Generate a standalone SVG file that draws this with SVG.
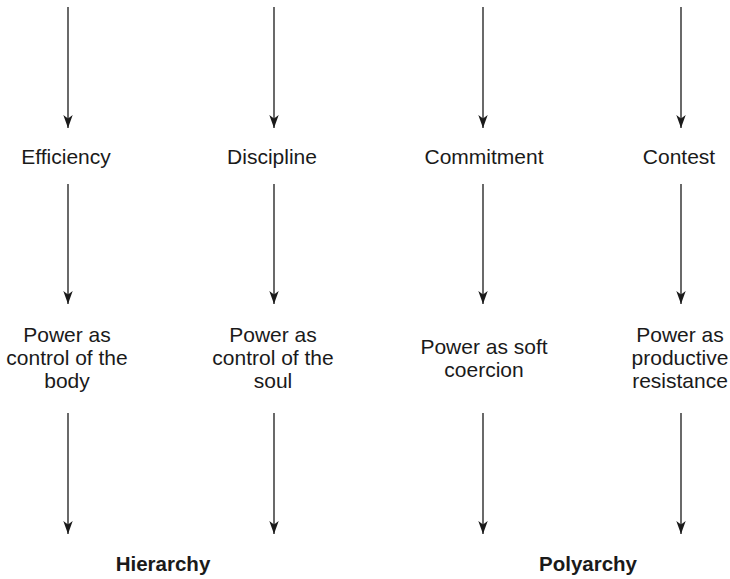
<svg xmlns="http://www.w3.org/2000/svg" width="730" height="579" viewBox="0 0 730 579">
  <defs>
    <marker id="arrow" viewBox="0 0 13 10" refX="13" refY="5" markerWidth="13" markerHeight="10" markerUnits="userSpaceOnUse" orient="auto">
      <path d="M0,0.3 L13,5 L0,9.7 L3.5,5 Z" fill="#1a1a1a"/>
    </marker>
  </defs>
  <style>
    .lbl { font-family: "Liberation Sans", Arial, sans-serif; font-size: 21px; fill: #1a1a1a; text-anchor: middle; }
    .head { font-weight: bold; font-size: 20.5px; }
    .conn line { stroke: #1a1a1a; stroke-width: 1.3; marker-end: url(#arrow); }
  </style>
  <rect width="730" height="579" fill="#ffffff"/>

  <g id="connectors" class="conn">
    <line x1="68" y1="7" x2="68" y2="128"/>
    <line x1="274" y1="7" x2="274" y2="128"/>
    <line x1="483" y1="7" x2="483" y2="128"/>
    <line x1="681" y1="7" x2="681" y2="128"/>

    <line x1="68" y1="184" x2="68" y2="304"/>
    <line x1="274" y1="184" x2="274" y2="304"/>
    <line x1="483" y1="184" x2="483" y2="304"/>
    <line x1="681" y1="184" x2="681" y2="304"/>

    <line x1="68" y1="413" x2="68" y2="534"/>
    <line x1="274" y1="413" x2="274" y2="534"/>
    <line x1="483" y1="413" x2="483" y2="534"/>
    <line x1="681" y1="413" x2="681" y2="534"/>
  </g>

  <g id="efficiency"><text class="lbl" x="66" y="164">Efficiency</text></g>
  <g id="discipline"><text class="lbl" x="272" y="164">Discipline</text></g>
  <g id="commitment"><text class="lbl" x="484" y="164">Commitment</text></g>
  <g id="contest"><text class="lbl" x="679" y="164">Contest</text></g>

  <g id="power-body">
    <text class="lbl" x="67" y="342">Power as</text>
    <text class="lbl" x="67" y="365">control of the</text>
    <text class="lbl" x="67" y="388">body</text>
  </g>
  <g id="power-soul">
    <text class="lbl" x="273" y="342">Power as</text>
    <text class="lbl" x="273" y="365">control of the</text>
    <text class="lbl" x="273" y="388">soul</text>
  </g>
  <g id="power-coercion">
    <text class="lbl" x="484" y="354">Power as soft</text>
    <text class="lbl" x="484" y="377">coercion</text>
  </g>
  <g id="power-resistance">
    <text class="lbl" x="680" y="342">Power as</text>
    <text class="lbl" x="680" y="365">productive</text>
    <text class="lbl" x="680" y="388">resistance</text>
  </g>

  <g id="hierarchy"><text class="lbl head" x="163" y="571">Hierarchy</text></g>
  <g id="polyarchy"><text class="lbl head" x="588" y="571">Polyarchy</text></g>
</svg>
